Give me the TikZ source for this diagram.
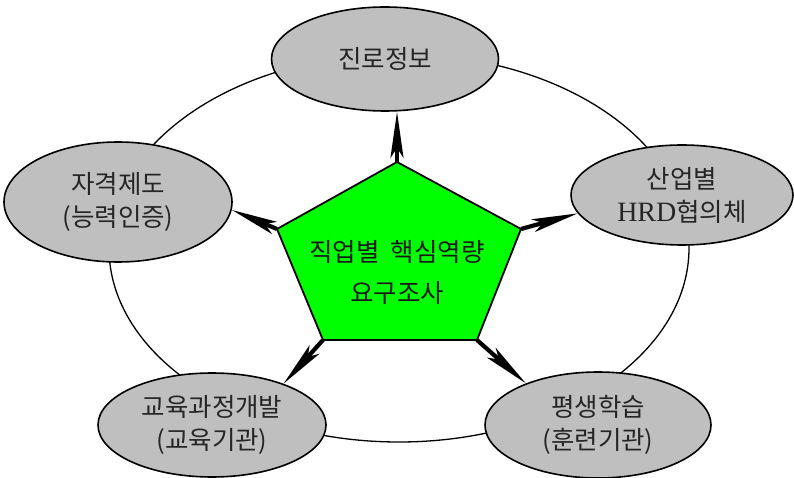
\documentclass[tikz,border=0pt]{standalone}
\usepackage{fontspec}
\setmainfont{Noto Sans CJK KR}
\newfontfamily\latinSerif{Liberation Serif}
\usepackage{tikz}
\usetikzlibrary{shapes.geometric, arrows.meta, positioning}

\begin{document}
\begin{tikzpicture}[x=1pt, y=-1pt,
    % ── shapes ──
    grayOval/.style  = {ellipse, draw=black, fill=gray!50, line width=1.6pt,
                        inner sep=0pt, align=center, text=black!85,
                        font=\fontsize{25.5}{33}\selectfont},
    pentFill/.style  = {draw=black, fill=green, line width=1.8pt,
                        line join=miter},
    ringLine/.style  = {draw=black, line width=1.3pt},
    % ── arrows ──
    arr/.style       = {-{Stealth[length=46pt, width=13pt, inset=10pt]},
                        line width=4.2pt, black},
    % ── text styles ──
    mainLabel/.style = {align=center, text=black!90,
                        font=\fontsize{25.5}{41}\selectfont},
]

\useasboundingbox (0,0) rectangle (794,478);

% =====================================================================
% outer ring
% =====================================================================
\draw[ringLine] (399,248) ellipse [x radius=290, y radius=194];

% =====================================================================
% five surrounding ovals
% =====================================================================
\node[grayOval, minimum width=227pt, minimum height=104pt] (career)
  at (385,59) {진로정보};
\node[grayOval, minimum width=228pt, minimum height=120pt] (license)
  at (118,202) {자격제도\\(능력인증)};
\node[grayOval, minimum width=222pt, minimum height=100pt] (industry)
  at (682,195) {산업별\\{\latinSerif\fontsize{28}{33}\selectfont HRD}협의체};
\node[grayOval, minimum width=228pt, minimum height=104pt] (curric)
  at (212,425) {교육과정개발\\(교육기관)};
\node[grayOval, minimum width=226pt, minimum height=106pt] (lifelong)
  at (598,425) {평생학습\\(훈련기관)};

% =====================================================================
% central pentagon
% =====================================================================
\coordinate (pTop)   at (397,162);
\coordinate (pLeft)  at (277,229);
\coordinate (pRight) at (521,229);
\coordinate (pBotL)  at (323,340);
\coordinate (pBotR)  at (477,340);
\draw[pentFill] (pTop) -- (pRight) -- (pBotR) -- (pBotL) -- (pLeft) -- cycle;
\node[mainLabel] (survey) at (397,272) {직업별\hspace{0.45em}핵심역량\\요구조사};

% =====================================================================
% arrows out of the pentagon corners
% =====================================================================
\draw[arr] (pTop)   -- (pTop |- career.south);
\draw[arr] (pLeft)  -- (license.-4);
\draw[arr] (pRight) -- (industry.190);
\draw[arr] (pBotL)  -- (curric.30);
\draw[arr] (pBotR)  -- (lifelong.150);

\end{tikzpicture}
\end{document}
